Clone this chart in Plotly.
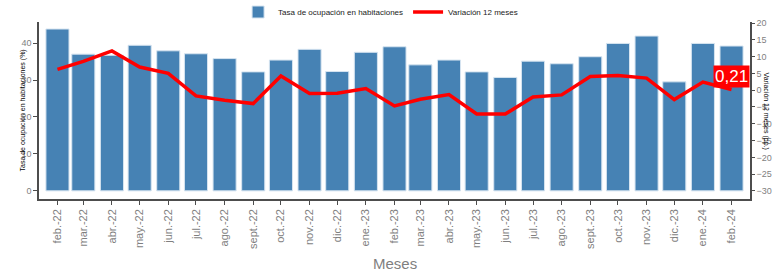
import plotly.graph_objects as go

months = ["2022-02-01", "2022-03-01", "2022-04-01", "2022-05-01", "2022-06-01", "2022-07-01",
          "2022-08-01", "2022-09-01", "2022-10-01", "2022-11-01", "2022-12-01", "2023-01-01",
          "2023-02-01", "2023-03-01", "2023-04-01", "2023-05-01", "2023-06-01", "2023-07-01",
          "2023-08-01", "2023-09-01", "2023-10-01", "2023-11-01", "2023-12-01", "2024-01-01",
          "2024-02-01"]
tick_labels = ["feb.-22", "mar.-22", "abr.-22", "may.-22", "jun.-22", "jul.-22", "ago.-22",
               "sept.-22", "oct.-22", "nov.-22", "dic.-22", "ene.-23", "feb.-23", "mar.-23",
               "abr.-23", "may.-23", "jun.-23", "jul.-23", "ago.-23", "sept.-23", "oct.-23",
               "nov.-23", "dic.-23", "ene.-24", "feb.-24"]
ocupacion = [43.8, 37.0, 36.7, 39.4, 37.9, 37.1, 35.8, 32.2, 35.4, 38.3, 32.3, 37.5, 39.0,
             34.1, 35.4, 32.2, 30.7, 35.1, 34.4, 36.3, 39.9, 41.9, 29.5, 39.9, 39.2]
variacion = [6.2, 8.6, 11.7, 6.9, 5.0, -1.7, -3.0, -4.0, 4.2, -1.0, -0.9, 0.5, -4.7, -2.7,
             -1.3, -7.1, -7.1, -2.0, -1.4, 4.1, 4.4, 3.6, -2.8, 2.4, 0.21]

FONT = "Liberation Sans, Arial, sans-serif"
GRAY = "#7f7f7f"
AXIS = "#4d4d4d"

fig = go.Figure()
fig.add_trace(go.Bar(
    x=months, y=ocupacion, name="Tasa de ocupación en habitaciones",
    marker=dict(color="#4682B4", line=dict(color="#d6e4f0", width=1)),
    width=25 * 86400000,
))
fig.add_trace(go.Scatter(
    x=months, y=variacion, name="Variación 12 meses", yaxis="y2",
    mode="lines", line=dict(color="#ff0000", width=3.5),
))

last_label = f"{variacion[-1]:.2f}".replace(".", ",")
fig.add_annotation(
    x=months[-1], y=variacion[-1], xref="x", yref="y2",
    text=last_label, showarrow=False, bgcolor="#ff0000",
    font=dict(color="white", size=17, family=FONT),
    xanchor="center", yanchor="middle", yshift=13, borderpad=1,
)
fig.add_annotation(
    x=0, xref="paper", y=0.5, yref="paper", xshift=-17,
    text="Tasa de ocupación en habitaciones (%)", textangle=-90, showarrow=False,
    font=dict(size=7, color="black", family=FONT), xanchor="center", yanchor="middle",
)
fig.add_annotation(
    x=1, xref="paper", y=0.5, yref="paper", xshift=16,
    text="Variación 12 meses (pp.)", textangle=90, showarrow=False,
    font=dict(size=7, color="black", family=FONT), xanchor="center", yanchor="middle",
)
fig.add_annotation(
    x=0.5, xref="paper", y=0, yref="paper", yshift=-64,
    text="Meses", showarrow=False,
    font=dict(size=15, color=GRAY, family=FONT), xanchor="center", yanchor="middle",
)

fig.update_layout(
    width=778, height=271,
    margin=dict(l=39, r=28, t=22, b=72, autoexpand=False),
    paper_bgcolor="white", plot_bgcolor="white",
    font=dict(family=FONT, color=GRAY),
    showlegend=True,
    legend=dict(orientation="h", x=0.28, xanchor="left",
                yref="container", y=1 - 12 / 271, yanchor="middle",
                font=dict(size=8, color="#222222"), bgcolor="rgba(0,0,0,0)",
                itemwidth=30, traceorder="normal"),
    xaxis=dict(
        type="date", range=["2022-01-12", "2024-02-21"], automargin=False,
        tickvals=months, ticktext=tick_labels, tickangle=-90,
        tickfont=dict(size=11, color=GRAY), ticks="outside", ticklen=4, tickcolor=AXIS,
        showline=True, linecolor=AXIS, linewidth=1.5, showgrid=False, zeroline=False,
    ),
    yaxis=dict(
        range=[-2.2, 45.7], tickvals=[0, 10, 20, 30, 40], automargin=False,
        tickfont=dict(size=9, color=GRAY), ticks="outside", ticklen=4, tickcolor=AXIS,
        showline=True, linecolor=AXIS, linewidth=1.5, showgrid=False, zeroline=False,
    ),
    yaxis2=dict(
        overlaying="y", side="right", range=[-32.4, 20.3], automargin=False,
        tickvals=[-30, -25, -20, -15, -10, -5, 0, 5, 10, 15, 20],
        tickfont=dict(size=9, color=GRAY), ticks="outside", ticklen=3, tickcolor=AXIS,
        showline=True, linecolor=AXIS, linewidth=1.5, showgrid=False, zeroline=False,
    ),
)

fig.write_html("out.html", config={"displayModeBar": False},
               post_script="document.body.style.margin='0';")
